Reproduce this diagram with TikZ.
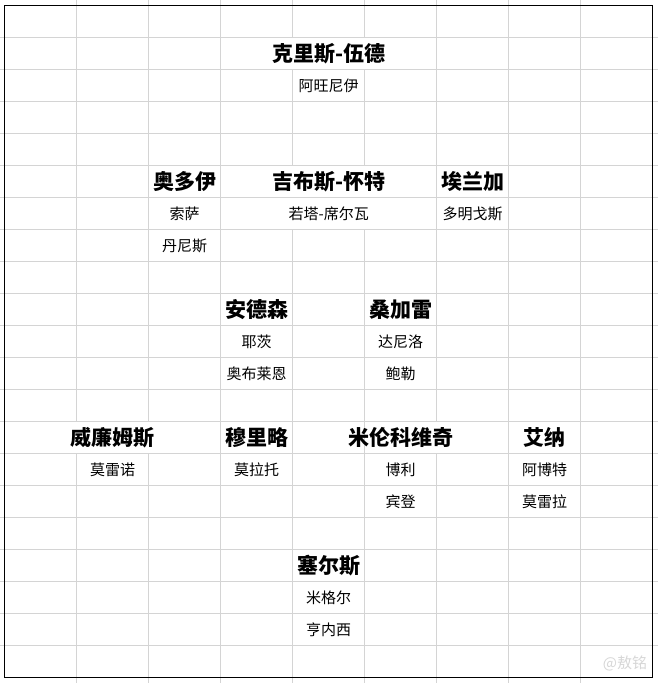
\documentclass[tikz,border=0pt]{standalone}
\usepackage{fontspec}
\setmainfont{Noto Sans CJK SC}
\begin{document}
\begin{tikzpicture}[x=1pt,y=-1pt,
  grid/.style={draw={rgb,255:red,212;green,212;blue,212},line width=1pt},
  frame/.style={draw=black,line width=1.3pt},
  player/.style={font=\bfseries\fontsize{21}{21}\selectfont,anchor=base,inner sep=0pt,yshift=-8pt},
  sub/.style={font=\fontsize{15}{15}\selectfont,anchor=base,inner sep=0pt,yshift=-5.8pt},
  wm/.style={font=\fontsize{15}{15}\selectfont,text={rgb,255:red,215;green,215;blue,215},anchor=base,inner sep=0pt,yshift=-5.8pt}]
\useasboundingbox (0,0) rectangle (658,683);
\fill[white] (0,0) rectangle (658,683);
% horizontal grid lines
\foreach \r in {1,...,20} \draw[grid] (0,{5.3+32*\r}) -- (658,{5.3+32*\r});
% vertical grid lines (gaps where text overflows)
\foreach \xx in {220.7,508.7,580.7} \draw[grid] (\xx,0) -- (\xx,683);
\foreach \xx in {76.7,148.7,436.7} {
  \draw[grid] (\xx,0) -- (\xx,421.3);
  \draw[grid] (\xx,453.3) -- (\xx,683);
}
\foreach \xx in {292.7,364.7} {
  \draw[grid] (\xx,0) -- (\xx,37.3);
  \draw[grid] (\xx,69.3) -- (\xx,165.3);
  \draw[grid] (\xx,229.3) -- (\xx,683);
}
% border
\draw[frame] (4.7,5.3) rectangle (652.7,677.3);
% texts: column centre x = 40.7+72k, row centre y = 21.3+32r
\node[player] (kw) at (328.7,53.3) {克里斯-伍德};
\node[sub] (aw) at (328.7,85.3) {阿旺尼伊};
\node[player] (od) at (184.7,181.3) {奥多伊};
\node[player] (gw) at (328.7,181.3) {吉布斯-怀特};
\node[player] (el) at (472.7,181.3) {埃兰加};
\node[sub] (ss) at (184.7,213.3) {索萨};
\node[sub] (js) at (328.7,213.3) {若塔-席尔瓦};
\node[sub] (dm) at (472.7,213.3) {多明戈斯};
\node[sub] (dn) at (184.7,245.3) {丹尼斯};
\node[player] (ad) at (256.7,309.3) {安德森};
\node[player] (sg) at (400.7,309.3) {桑加雷};
\node[sub] (yc) at (256.7,341.3) {耶茨};
\node[sub] (dl) at (400.7,341.3) {达尼洛};
\node[sub] (ab) at (256.7,373.3) {奥布莱恩};
\node[sub] (bl) at (400.7,373.3) {鲍勒};
\node[player] (wl) at (112.7,437.3) {威廉姆斯};
\node[player] (ml) at (256.7,437.3) {穆里略};
\node[player] (mk) at (400.7,437.3) {米伦科维奇};
\node[player] (an) at (544.7,437.3) {艾纳};
\node[sub] (mn) at (112.7,469.3) {莫雷诺};
\node[sub] (mt) at (256.7,469.3) {莫拉托};
\node[sub] (bo) at (400.7,469.3) {博利};
\node[sub] (at) at (544.7,469.3) {阿博特};
\node[sub] (bd) at (400.7,501.3) {宾登};
\node[sub] (ml2) at (544.7,501.3) {莫雷拉};
\node[player] (se) at (328.7,565.3) {塞尔斯};
\node[sub] (mg) at (328.7,597.3) {米格尔};
\node[sub] (hn) at (328.7,629.3) {亨内西};
\node[wm] (wmk) at (625,663) {@敖铭};
\end{tikzpicture}
\end{document}
